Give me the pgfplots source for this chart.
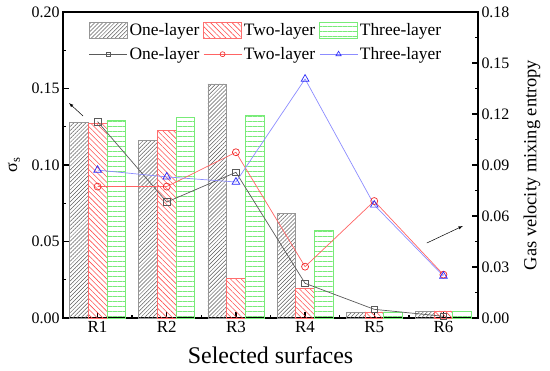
\documentclass[border=0pt]{standalone}
\usepackage{pgfplots}
\pgfplotsset{compat=1.18}
\usepackage{fontspec}
\setmainfont{Liberation Serif}
\usetikzlibrary{patterns.meta}
\definecolor{gB}{RGB}{150,150,150}
\definecolor{gH}{RGB}{90,90,90}
\definecolor{rB}{RGB}{255,110,110}
\definecolor{rH}{RGB}{255,80,80}
\definecolor{gnB}{RGB}{120,235,120}
\definecolor{lK}{RGB}{90,90,90}
\definecolor{lR}{RGB}{255,100,100}
\definecolor{mR}{RGB}{240,40,40}
\definecolor{lB}{RGB}{140,140,255}
\definecolor{mB}{RGB}{40,40,250}
\pgfplotsset{
  barleg/.style={legend image code/.code={\draw[##1] (0bp,-8bp) rectangle (38bp,8bp);}},
  lineleg/.style={legend image code/.code={\draw[mark repeat=2,mark phase=2,##1] plot coordinates {(0bp,0bp) (19bp,0bp) (38bp,0bp)};}},
  common/.style={
    width=415bp, height=306bp, scale only axis,
    xmin=0.5, xmax=6.5,
    tick align=inside,
    major tick length=6bp, minor tick length=3.5bp,
    every tick/.style={line width=1.4bp, black},
    yticklabel style={font=\fontsize{16}{19}\selectfont},
    xticklabel style={font=\fontsize{17}{20}\selectfont},
    /pgf/number format/.cd, fixed, fixed zerofill, precision=2, assume math mode=true,
  },
}
\begin{document}
\begin{tikzpicture}
\begin{axis}[common,
  ymin=0, ymax=0.20,
  ytick={0,0.05,0.10,0.15,0.20},
  minor y tick num=1,
  ytick pos=left, xtick pos=bottom,
  xtick={1,2,3,4,5,6},
  xticklabels={R1,R2,R3,R4,R5,R6},
  minor xtick={1.5,2.5,3.5,4.5,5.5},
  axis line style={line width=1.5bp},
  xlabel={Selected surfaces},
  xlabel style={font=\fontsize{24}{28}\selectfont, at={(axis description cs:0.5,0)}, anchor=base, yshift=-45bp},
  ylabel={σ\textsubscript{s}},
  ylabel style={font=\fontsize{18}{20}\selectfont, at={(axis description cs:0,0.5)}, anchor=center, yshift=49bp},
  bar width=0.27,
]
\addplot[ybar, bar shift=-0.27, draw=gB, line width=0.6bp, pattern={Lines[angle=45,distance=2.8bp,line width=0.5bp]}, pattern color=gH]
 coordinates {(1,0.128) (2,0.116) (3,0.153) (4,0.0684) (5,0.0037) (6,0.0044)};
\addplot[ybar, bar shift=0, draw=rB, line width=0.6bp, pattern={Lines[angle=135,distance=3.8bp,line width=0.6bp]}, pattern color=rH]
 coordinates {(1,0.127) (2,0.1227) (3,0.026) (4,0.0194) (5,0.0040) (6,0.0046)};
\addplot[ybar, bar shift=0.27, draw=gnB, line width=0.6bp, pattern={Lines[angle=0,distance=5bp,line width=0.5bp]}, pattern color=gnB]
 coordinates {(1,0.129) (2,0.131) (3,0.1325) (4,0.0573) (5,0.0040) (6,0.0046)};
\draw[-latex, line width=0.5bp, black] (axis cs:0.79,0.132) -- (axis cs:0.587,0.1405);
\end{axis}
\begin{axis}[common,
  ymin=0, ymax=0.18,
  ytick={0,0.03,0.06,0.09,0.12,0.15,0.18},
  minor y tick num=1,
  axis y line*=right, axis x line=none,
  axis line style={line width=1.5bp},
  ylabel={Gas velocity mixing entropy},
  ylabel style={font=\fontsize{18.5}{20}\selectfont, at={(axis description cs:1,0.5)}, anchor=center, yshift=-54bp},
  legend columns=3,
  legend cell align=left,
  legend style={draw=none, fill=none, at={(0.055,0.975)}, anchor=north west,
    font=\fontsize{17.5}{20}\selectfont,
    /tikz/every even column/.append style={column sep=2bp},
    row sep=6bp},
]
\addlegendimage{barleg, draw=gB, line width=0.6bp, pattern={Lines[angle=45,distance=2.8bp,line width=0.5bp]}, pattern color=gH}
\addlegendentry{One-layer}
\addlegendimage{barleg, draw=rB, line width=0.6bp, pattern={Lines[angle=135,distance=3.8bp,line width=0.6bp]}, pattern color=rH}
\addlegendentry{Two-layer}
\addlegendimage{barleg, draw=gnB, line width=0.6bp, pattern={Lines[angle=0,distance=5bp,line width=0.5bp]}, pattern color=gnB}
\addlegendentry{Three-layer}
\addlegendimage{lineleg, color=lK, line width=0.6bp, mark=square, mark size=2bp, mark options={draw=lK, line width=0.6bp}}
\addlegendentry{One-layer}
\addlegendimage{lineleg, color=lR, line width=0.6bp, mark=o, mark size=2.5bp, mark options={draw=mR, line width=0.6bp}}
\addlegendentry{Two-layer}
\addlegendimage{lineleg, color=lB, line width=0.6bp, mark=triangle, mark size=3bp, mark options={draw=mB, line width=0.6bp}}
\addlegendentry{Three-layer}
\addplot[forget plot, color=lK, line width=0.7bp, mark=square, mark size=3.3bp, mark options={draw=lK, fill=none, line width=0.7bp}]
 coordinates {(1,0.1155) (2,0.0682) (3,0.0857) (4,0.0204) (5,0.0051) (6,0.0010)};
\addplot[forget plot, color=lR, line width=0.7bp, mark=o, mark size=3.5bp, mark options={draw=mR, fill=none, line width=0.7bp}]
 coordinates {(1,0.0773) (2,0.0773) (3,0.0975) (4,0.0302) (5,0.0688) (6,0.0255)};
\addplot[forget plot, color=lB, line width=0.7bp, mark=triangle, mark size=4.4bp, mark options={draw=mB, fill=none, line width=0.7bp}]
 coordinates {(1,0.087) (2,0.083) (3,0.080) (4,0.1406) (5,0.0665) (6,0.0247)};
\draw[-latex, line width=0.5bp, black] (axis cs:5.76,0.0441) -- (axis cs:6.28,0.0541);
\end{axis}
\pgfresetboundingbox
\path ([shift={(-63bp,-53bp)}]current axis.south west) rectangle ([shift={(72bp,12bp)}]current axis.north east);
\end{tikzpicture}
\end{document}
